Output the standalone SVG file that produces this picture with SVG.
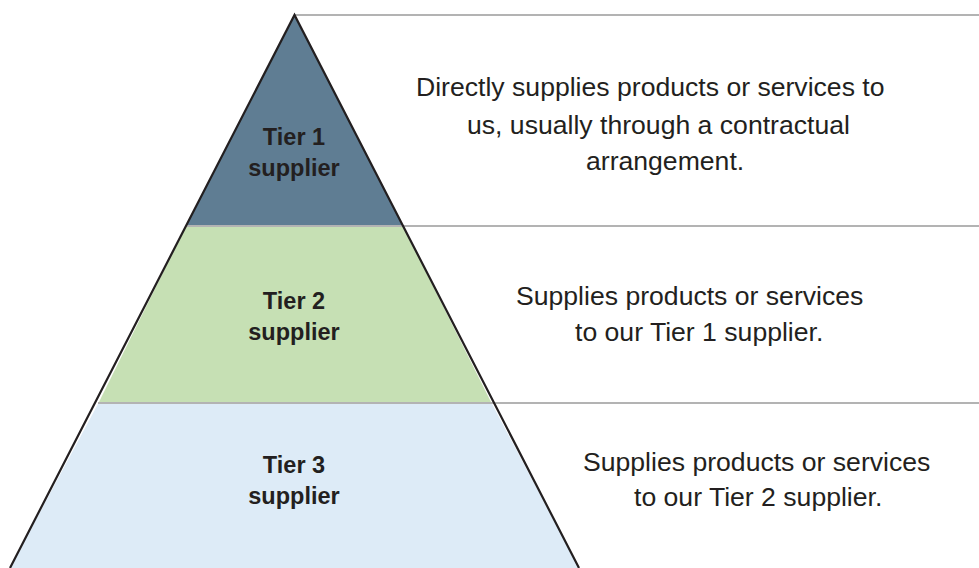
<svg xmlns="http://www.w3.org/2000/svg" width="979" height="568" viewBox="0 0 979 568">
<style>
.sep{stroke:#b3b3b3;stroke-width:2;fill:none}
.edge{stroke:#231f20;stroke-width:2.2;fill:none;stroke-linejoin:miter}
.lbl{font-family:"Liberation Sans",Arial,sans-serif;font-weight:bold;font-size:23.5px;fill:#231f20;text-anchor:middle}
.desc{font-family:"Liberation Sans",Arial,sans-serif;font-size:26.6px;fill:#231f20}
</style>
<rect width="979" height="568" fill="#ffffff"/>
<g id="tier3">
<polygon points="98.5,403 491.5,403 579,568 10,568" fill="#ddebf7"/>
<text class="lbl" x="294" y="473">Tier 3</text>
<text class="lbl" x="294" y="504">supplier</text>
</g>
<g id="tier2">
<polygon points="186,226 403,226 491.5,403 98.5,403" fill="#c6e0b4"/>
<text class="lbl" x="294" y="309">Tier 2</text>
<text class="lbl" x="294" y="340">supplier</text>
</g>
<g id="tier1">
<polygon points="294.5,15 403,226 186,226" fill="#5f7d93"/>
<text class="lbl" x="294" y="145">Tier 1</text>
<text class="lbl" x="294" y="176">supplier</text>
</g>
<g id="connectors">
<line class="sep" x1="295" y1="15" x2="979" y2="15"/>
<line class="sep" x1="187" y1="226" x2="979" y2="226"/>
<line class="sep" x1="98" y1="403" x2="979" y2="403"/>
<polyline class="edge" points="10,568 294.5,15 579,568"/>
</g>
<g id="desc1">
<text class="desc" x="416" y="96">Directly supplies products or services to</text>
<text class="desc" x="467" y="134">us, usually through a contractual</text>
<text class="desc" x="586" y="170">arrangement.</text>
</g>
<g id="desc2">
<text class="desc" x="516" y="305">Supplies products or services</text>
<text class="desc" x="575" y="341">to our Tier 1 supplier.</text>
</g>
<g id="desc3">
<text class="desc" x="583" y="471">Supplies products or services</text>
<text class="desc" x="634" y="506">to our Tier 2 supplier.</text>
</g>
</svg>
